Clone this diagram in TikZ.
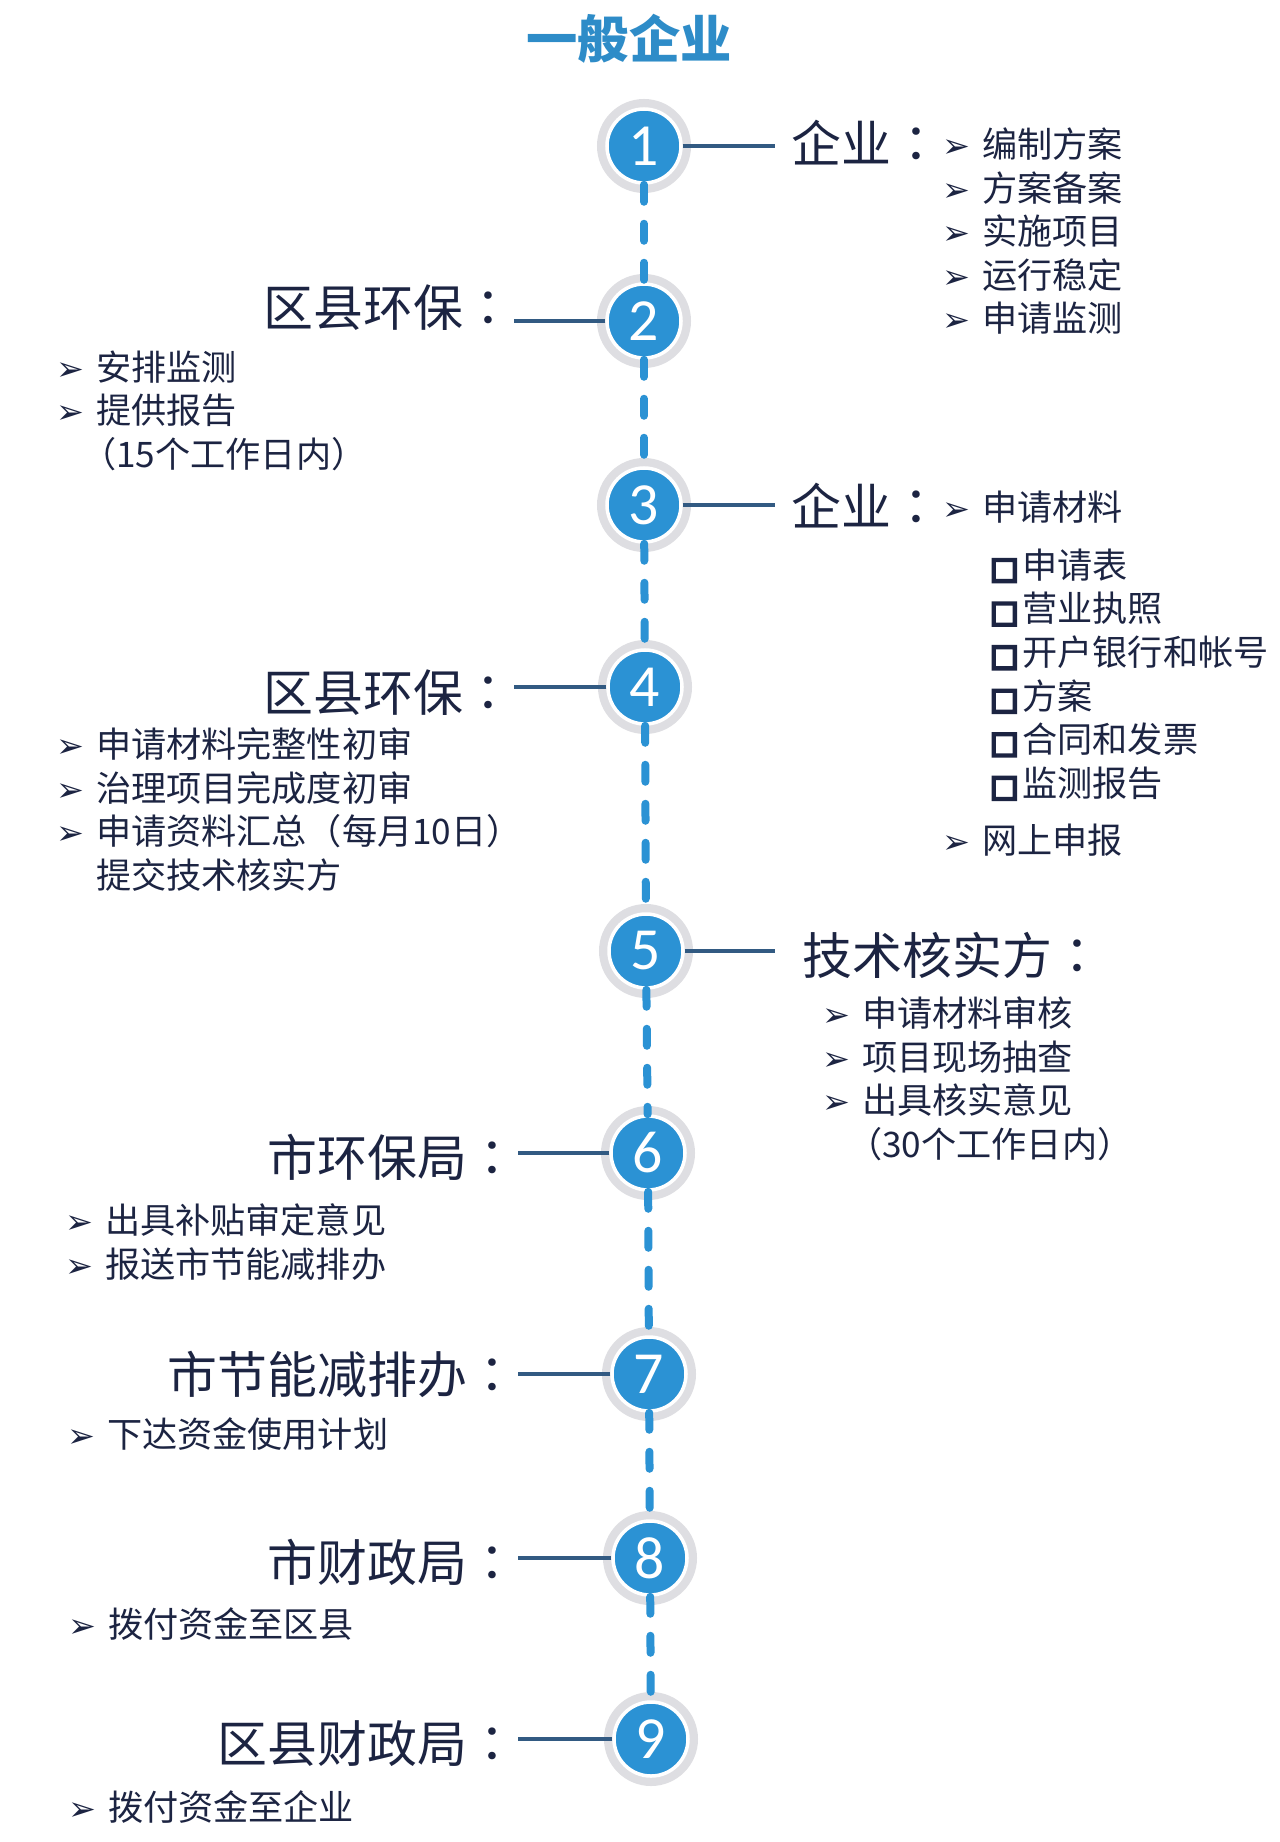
\documentclass[tikz,border=0pt]{standalone}
\usepackage{fontspec}
\setmainfont{Noto Sans CJK SC}
\newfontfamily\jpfont{Noto Sans CJK JP}
\newfontfamily\symfont{DejaVu Sans}
\newfontfamily\boxfont[FakeBold=9]{DejaVu Sans}
\newfontfamily\numfont{Carlito}
\usepackage{xcolor}
\usepackage{tikz}
\usetikzlibrary{positioning}

\definecolor{stepblue}{RGB}{43,146,212}
\definecolor{titleblue}{RGB}{46,140,200}
\definecolor{inkblue}{RGB}{28,36,66}
\definecolor{linkblue}{RGB}{50,90,130}
\definecolor{halo}{RGB}{222,222,226}

\newcommand{\jt}{\makebox[1.12em][l]{\fontsize{9.5}{9.5}\symfont ➢}}
\newcommand{\fk}{\makebox[0.92em][l]{\fontsize{8.5}{8.5}\boxfont □}}
\newcommand{\mh}{{\jpfont ：}}

\begin{document}
\begin{tikzpicture}[
  num/.style={circle, fill=stepblue, draw=white, line width=1pt, minimum size=0.74cm, inner sep=0pt, text=white, font=\fontsize{17}{17}\numfont, preaction={draw=halo, line width=0.2cm}},
  head/.style={inner sep=0pt, text=inkblue, font=\fontsize{14.2}{17}\selectfont},
  item/.style={anchor=north west, align=left, inner sep=0pt, text=inkblue, font=\fontsize{10}{12.4}\selectfont},
  vline/.style={stepblue, line width=0.08cm, line cap=round, dash pattern=on 0.17cm off 0.22cm},
  link/.style={linkblue, line width=0.9pt}
]

  % page
  \fill[white] (0,0) rectangle (12.8,-18.42);
  \useasboundingbox (0,0) rectangle (12.8,-18.42);

  % Title
  \node[font=\fontsize{14.6}{17}\selectfont\bfseries, text=titleblue] (title) at (6.29,-0.39) {一般企业};

  % Steps
  \node[num] (n1) at (6.44,-1.46) {1};
  \node[num] (n2) at (6.44,-3.21) {2};
  \node[num] (n3) at (6.44,-5.05) {3};
  \node[num] (n4) at (6.45,-6.87) {4};
  \node[num] (n5) at (6.46,-9.51) {5};
  \node[num] (n6) at (6.48,-11.53) {6};
  \node[num] (n7) at (6.49,-13.74) {7};
  \node[num] (n8) at (6.50,-15.58) {8};
  \node[num] (n9) at (6.51,-17.39) {9};

  % Time line
  \draw[vline] (n1) -- (n2);
  \draw[vline] (n2) -- (n3);
  \draw[vline] (n3) -- (n4);
  \draw[vline] (n4) -- (n5);
  \draw[vline] (n5) -- (n6);
  \draw[vline] (n6) -- (n7);
  \draw[vline] (n7) -- (n8);
  \draw[vline] (n8) -- (n9);

  % Who does it
  \node[head, anchor=west] (t1) at (7.91,-1.43) {企业\mh};
  \node[head, anchor=east] (t2) at (5.14,-3.08) {区县环保\mh};
  \node[head, anchor=west] (t3) at (7.91,-5.06) {企业\mh};
  \node[head, anchor=east] (t4) at (5.14,-6.93) {区县环保\mh};
  \node[head, anchor=west] (t5) at (8.02,-9.55) {技术核实方\mh};
  \node[head, anchor=east] (t6) at (5.18,-11.57) {市环保局\mh};
  \node[head, anchor=east] (t7) at (5.18,-13.74) {市节能减排办\mh};
  \node[head, anchor=east] (t8) at (5.18,-15.62) {市财政局\mh};
  \node[head, anchor=east] (t9) at (5.18,-17.44) {区县财政局\mh};

  \draw[link, shorten >=0.16cm] (n1) -- (n1 -| t1.west);
  \draw[link] (n2) -- (n2 -| t2.east);
  \draw[link, shorten >=0.16cm] (n3) -- (n3 -| t3.west);
  \draw[link] (n4) -- (n4 -| t4.east);
  \draw[link, shorten >=0.27cm] (n5) -- (n5 -| t5.west);
  \draw[link] (n6) -- (n6 -| t6.east);
  \draw[link] (n7) -- (n7 -| t7.east);
  \draw[link] (n8) -- (n8 -| t8.east);
  \draw[link] (n9) -- (n9 -| t9.east);

  % What they do
  \node[item] (l1) at (9.42,-1.27) {\jt 编制方案\\ \jt 方案备案\\ \jt 实施项目\\ \jt 运行稳定\\ \jt 申请监测};
  \node[item] (l2) at (0.56,-3.50) {\jt 安排监测\\ \jt 提供报告\\ \hspace*{0.7em}（15个工作日内）};
  \node[item] (l3) at (9.42,-4.90) {\jt 申请材料\\[0.145cm]
    \hspace*{1.35em}\fk 申请表\\
    \hspace*{1.35em}\fk 营业执照\\
    \hspace*{1.35em}\fk 开户银行和帐号\\
    \hspace*{1.35em}\fk 方案\\
    \hspace*{1.35em}\fk 合同和发票\\
    \hspace*{1.35em}\fk 监测报告\\[0.14cm]
    \jt 网上申报};
  \node[item] (l4) at (0.56,-7.27) {\jt 申请材料完整性初审\\ \jt 治理项目完成度初审\\ \jt 申请资料汇总（每月10日）\\ \hspace*{1.12em}提交技术核实方};
  \node[item] (l5) at (8.22,-9.96) {\jt 申请材料审核\\ \jt 项目现场抽查\\ \jt 出具核实意见\\ \hspace*{0.7em}（30个工作日内）};
  \node[item] (l6) at (0.65,-12.03) {\jt 出具补贴审定意见\\ \jt 报送市节能减排办};
  \node[item] (l7) at (0.67,-14.17) {\jt 下达资金使用计划};
  \node[item] (l8) at (0.68,-16.07) {\jt 拨付资金至区县};
  \node[item] (l9) at (0.68,-17.90) {\jt 拨付资金至企业};

\end{tikzpicture}
\end{document}
